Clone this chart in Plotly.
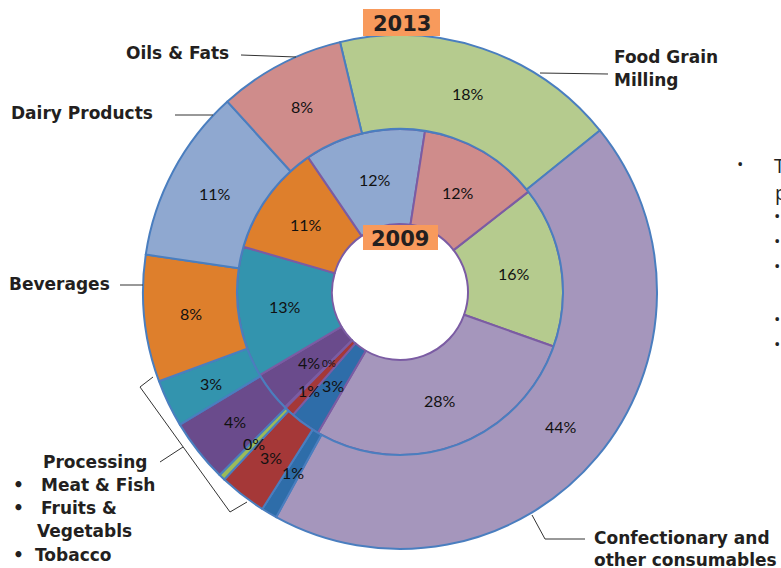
import math
import plotly.graph_objects as go

# ---------------- data ----------------
categories = ["Food Grain Milling", "Confectionary and other consumables", "Tobacco",
              "Fruits & Vegetables", "Other", "Meat & Fish", "Processing",
              "Beverages", "Dairy Products", "Oils & Fats"]
share_2013 = [18, 44, 1, 3, 0.4, 4, 3, 8, 11, 8]
share_2009 = [16, 28, 3, 1, 0.1, 4, 13, 11, 12, 12]
years = ["2013", "2009"]

# ---------------- style / geometry (pixels) ----------------
W, H = 781, 568
CX, CY = 400, 292
R_OUT, R_MID, R_IN = 257, 163, 68
ROT_2013, ROT_2009 = -13.5, 52
slice_colors = ["#B5CB8E", "#A596BC", "#2E6DA9", "#A53838", "#9BBB59",
                "#6A4B8C", "#3394AE", "#DE7F2C", "#8FA8D0", "#CF8C8B"]
# label radial nudges / sizes for the crowded inner slivers (style only)
inner_radial = [1, 1, 1, 1.16, 0.87, 1, 1, 1, 1, 1]
inner_size = [16, 16, 16, 16, 10, 16, 16, 16, 16, 16]
outer_radial = [1] * 10
outer_size = [16] * 10
FONT_PCT = "Lato"
FONT_LBL = "DejaVu Sans"


def px(x):
    return x / W


def py(y):
    return 1 - y / H


fig = go.Figure()

fig.add_trace(go.Pie(
    labels=categories, values=share_2009, textinfo="none", sort=False,
    direction="clockwise", rotation=ROT_2009, hole=R_IN / R_MID,
    domain=dict(x=[px(CX - R_MID), px(CX + R_MID)], y=[py(CY + R_MID), py(CY - R_MID)]),
    marker=dict(colors=slice_colors, line=dict(color="#7B5CA3", width=2)),
    showlegend=False, name=years[1], hoverinfo="label+percent"))

fig.add_trace(go.Pie(
    labels=categories, values=share_2013, textinfo="none", sort=False,
    direction="clockwise", rotation=ROT_2013, hole=R_MID / R_OUT,
    domain=dict(x=[px(CX - R_OUT), px(CX + R_OUT)], y=[py(CY + R_OUT), py(CY - R_OUT)]),
    marker=dict(colors=slice_colors, line=dict(color="#4A7EBF", width=2)),
    showlegend=False, name=years[0], hoverinfo="label+percent"))

annotations = []
shapes = []


def label(x, y, text, size=17, xanchor="left", color="#231F20", family=FONT_LBL):
    annotations.append(dict(x=px(x), y=py(y), xref="paper", yref="paper",
                            text=text, showarrow=False, xanchor=xanchor,
                            yanchor="middle", align="left",
                            font=dict(family=family, size=size, color=color)))


def line(x0, y0, x1, y1, color="#333333", width=1):
    shapes.append(dict(type="line", xref="paper", yref="paper",
                       x0=px(x0), y0=py(y0), x1=px(x1), y1=py(y1),
                       line=dict(color=color, width=width)))


def ring_labels(values, rotation, r0, r1, radial, sizes):
    total = sum(values)
    start = rotation
    rmid = (r0 + r1) / 2
    for v, rf, sz in zip(values, radial, sizes):
        span = 360 * v / total
        ang = math.radians(start + span / 2)
        r = rmid * rf
        x = CX + r * math.sin(ang)
        y = CY - r * math.cos(ang)
        label(x, y, f"{round(v):.0f}%", size=sz, xanchor="center",
              color="#111111", family=FONT_PCT)
        start += span


ring_labels(share_2009, ROT_2009, R_IN, R_MID, inner_radial, inner_size)
ring_labels(share_2013, ROT_2013, R_MID, R_OUT, outer_radial, outer_size)

# year badges
for (x0, x1, y0, y1, txt) in [(363, 440, 9, 36, years[0]),
                              (363, 438, 225, 250, years[1])]:
    shapes.append(dict(type="rect", xref="paper", yref="paper",
                       x0=px(x0), x1=px(x1), y0=py(y1), y1=py(y0),
                       fillcolor="#F89A5C", line=dict(width=0), layer="above"))
    label((x0 + x1) / 2, (y0 + y1) / 2 + 1, f"<b>{txt}</b>", size=21, xanchor="center")

# category labels and leader lines
label(124, 53, "<b>Oils & Fats</b>")
line(241, 55, 296, 57)
label(9, 113, "<b>Dairy Products</b>")
line(175, 115, 213, 115)
label(7, 284, "<b>Beverages</b>")
line(120, 285, 143, 285)
label(612, 57, "<b>Food Grain</b>")
label(612, 80, "<b>Milling</b>")
line(540, 73, 608, 74)
label(592, 538, "<b>Confectionary and</b>")
label(592, 560, "<b>other consumables</b>")
line(532, 515, 545, 539)
line(545, 539, 585, 539)

# bracket for small categories
line(153, 377, 140, 387)
line(140, 387, 230, 512)
line(230, 512, 247, 502)
line(160, 462, 183, 447)
label(41, 462, "<b>Processing</b>")
label(11, 485, "<b>•</b>")
label(39, 485, "<b>Meat & Fish</b>")
label(11, 508, "<b>•</b>")
label(39, 508, "<b>Fruits &</b>")
label(35, 531, "<b>Vegetabls</b>")
label(11, 555, "<b>•</b>")
label(33, 555, "<b>Tobacco</b>")

# clipped slide text at the right edge
label(735, 163, "•", size=17, color="#222222", family="Open Sans")
label(772, 166, "T", size=20, color="#222222", family="Open Sans")
label(773, 192, "p", size=20, color="#222222", family="Open Sans")
for yy in [215, 240, 265, 318, 343]:
    label(772, yy, "•", size=17, color="#222222", family="Open Sans")

fig.update_layout(
    width=W, height=H, margin=dict(l=0, r=0, t=0, b=0),
    paper_bgcolor="white", plot_bgcolor="white",
    annotations=annotations, shapes=shapes)

fig.write_html("out.html", config={"displayModeBar": False},
               post_script="document.body.style.margin='0px';")
